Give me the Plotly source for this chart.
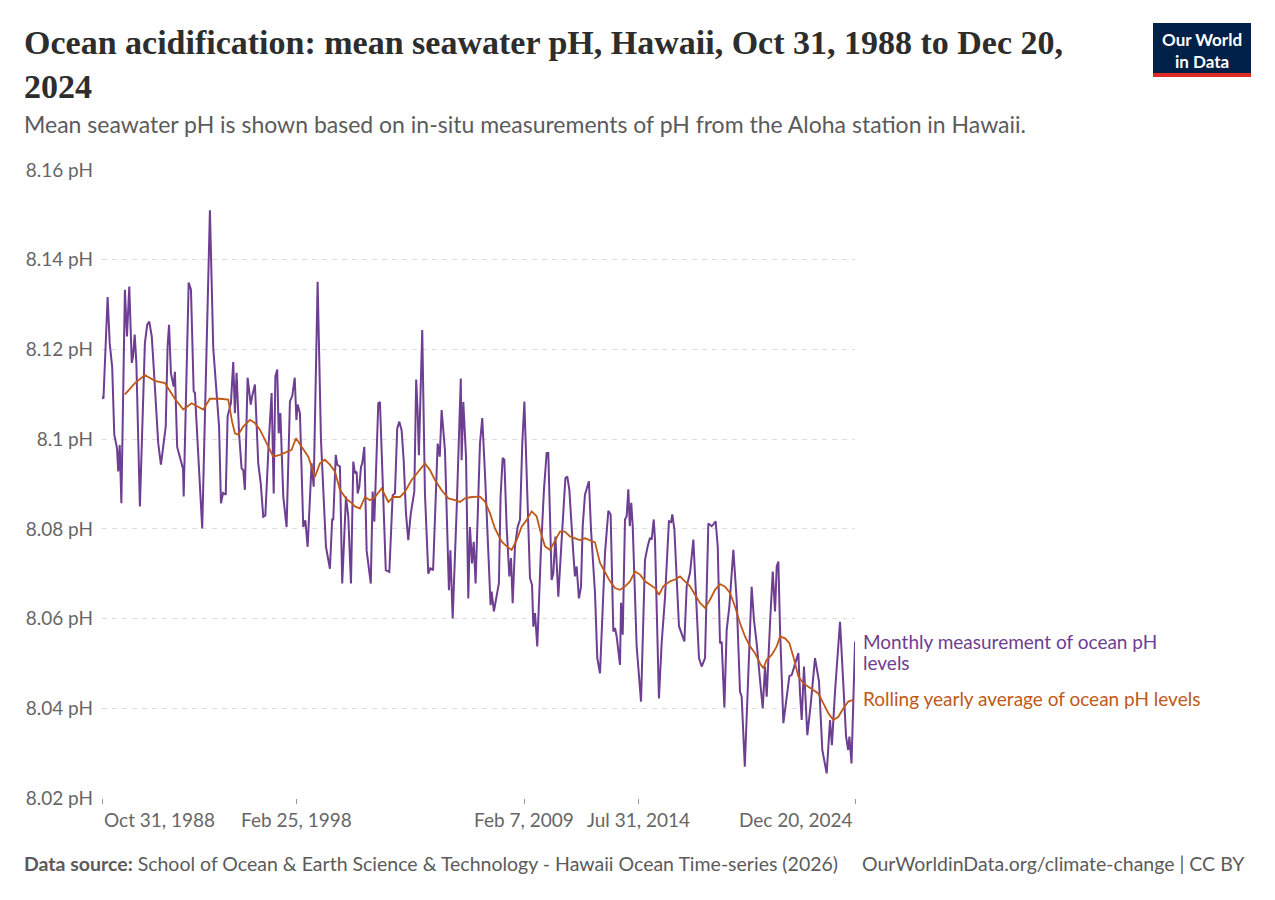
'''
Ocean acidification at the Aloha station (Hawaii): monthly pH readings
and their rolling yearly average, styled after the Our World in Data chart.
'''
import pandas as pd
import plotly.graph_objects as go


WIDTH = 1275
HEIGHT = 900
# plot area in pixels (left, right, top, bottom)
PLOT_L, PLOT_R, PLOT_T, PLOT_B = 102, 855, 170, 798

PURPLE = '#6d3e91'
ORANGE = '#c05917'
GREY = '#666666'

# Monthly measurements, dates as decimal years
monthly_years = [
    1988.83, 1988.90, 1989.10, 1989.20, 1989.32, 1989.42, 1989.55, 1989.61,
    1989.68, 1989.76, 1989.93, 1990.03, 1990.14, 1990.26, 1990.32, 1990.40,
    1990.48, 1990.65, 1990.89, 1991.00, 1991.10, 1991.22, 1991.34, 1991.53,
    1991.66, 1991.89, 1991.98, 1992.05, 1992.14, 1992.27, 1992.33, 1992.44,
    1992.72, 1992.75, 1992.99, 1993.10, 1993.23, 1993.29, 1993.64, 1994.01,
    1994.17, 1994.45, 1994.54, 1994.64, 1994.77, 1994.86, 1995.02, 1995.13,
    1995.21, 1995.29, 1995.41, 1995.53, 1995.61, 1995.69, 1995.82, 1995.97,
    1996.04, 1996.17, 1996.33, 1996.45, 1996.57, 1996.67, 1996.83, 1996.97,
    1997.07, 1997.15, 1997.24, 1997.31, 1997.39, 1997.53, 1997.69, 1997.85,
    1997.96, 1998.08, 1998.16, 1998.22, 1998.33, 1998.49, 1998.59, 1998.70,
    1998.89, 1998.99, 1999.18, 1999.34, 1999.58, 1999.77, 1999.88, 1999.93,
    2000.05, 2000.12, 2000.25, 2000.36, 2000.54, 2000.65, 2000.78, 2000.89,
    2000.97, 2001.05, 2001.10, 2001.18, 2001.26, 2001.32, 2001.42, 2001.53,
    2001.73, 2001.82, 2001.90, 2001.98, 2002.09, 2002.17, 2002.27, 2002.45,
    2002.62, 2002.78, 2002.89, 2003.00, 2003.10, 2003.21, 2003.31, 2003.42,
    2003.53, 2003.65, 2003.82, 2003.91, 2003.98, 2004.04, 2004.20, 2004.33,
    2004.49, 2004.59, 2004.72, 2004.94, 2005.04, 2005.13, 2005.29, 2005.48,
    2005.55, 2005.66, 2005.85, 2006.05, 2006.09, 2006.17, 2006.30, 2006.41,
    2006.49, 2006.59, 2006.67, 2006.76, 2006.97, 2007.08, 2007.21, 2007.40,
    2007.48, 2007.53, 2007.64, 2007.88, 2007.96, 2008.06, 2008.14, 2008.25,
    2008.38, 2008.46, 2008.54, 2008.65, 2008.78, 2008.89, 2009.00, 2009.10,
    2009.21, 2009.37, 2009.47, 2009.53, 2009.61, 2009.72, 2009.89, 2010.04,
    2010.17, 2010.25, 2010.41, 2010.49, 2010.59, 2010.73, 2010.89, 2011.07,
    2011.16, 2011.26, 2011.45, 2011.53, 2011.61, 2011.72, 2011.82, 2011.90,
    2012.01, 2012.20, 2012.30, 2012.49, 2012.60, 2012.73, 2012.97, 2013.13,
    2013.24, 2013.37, 2013.45, 2013.53, 2013.69, 2013.74, 2013.82, 2013.93,
    2014.01, 2014.09, 2014.16, 2014.23, 2014.30, 2014.49, 2014.70, 2014.89,
    2015.02, 2015.13, 2015.21, 2015.31, 2015.37, 2015.56, 2015.69, 2015.85,
    2016.04, 2016.14, 2016.20, 2016.30, 2016.52, 2016.65, 2016.78, 2016.89,
    2017.05, 2017.21, 2017.34, 2017.48, 2017.61, 2017.77, 2017.93, 2018.09,
    2018.17, 2018.28, 2018.38, 2018.49, 2018.57, 2018.70, 2018.81, 2018.94,
    2019.13, 2019.29, 2019.45, 2019.53, 2019.68, 2019.85, 2020.01, 2020.12,
    2020.25, 2020.41, 2020.54, 2020.65, 2020.73, 2020.89, 2021.02, 2021.13,
    2021.21, 2021.29, 2021.37, 2021.53, 2021.69, 2021.82, 2021.93, 2022.09,
    2022.25, 2022.33, 2022.41, 2022.52, 2022.68, 2022.84, 2023.05, 2023.24,
    2023.40, 2023.61, 2023.77, 2023.86, 2024.01, 2024.25, 2024.38, 2024.54,
    2024.64, 2024.70, 2024.80, 2024.97,
]
monthly_ph = [
    8.1095, 8.1090, 8.1317, 8.1214, 8.1160, 8.1010, 8.0980, 8.0928,
    8.0987, 8.0857, 8.1333, 8.1229, 8.1340, 8.1170, 8.1184, 8.1233,
    8.1170, 8.0850, 8.1214, 8.1255, 8.1262, 8.1229, 8.1140, 8.0991,
    8.0943, 8.1028, 8.1207, 8.1255, 8.1147, 8.1117, 8.1150, 8.0982,
    8.0934, 8.0872, 8.1349, 8.1333, 8.1106, 8.1104, 8.0801, 8.1510,
    8.1203, 8.1028, 8.0857, 8.0880, 8.0876, 8.1051, 8.1081, 8.1172,
    8.1058, 8.1148, 8.1013, 8.0935, 8.0931, 8.0887, 8.1137, 8.1077,
    8.1096, 8.1122, 8.0946, 8.0901, 8.0827, 8.0830, 8.0991, 8.1103,
    8.0879, 8.1140, 8.1155, 8.1013, 8.1058, 8.0872, 8.0804, 8.1084,
    8.1096, 8.1137, 8.1043, 8.1077, 8.1058, 8.0804, 8.0819, 8.0760,
    8.0946, 8.0894, 8.1351, 8.0999, 8.0760, 8.0711, 8.0823, 8.0819,
    8.0965, 8.0943, 8.0939, 8.0678, 8.0872, 8.0827, 8.0678, 8.0950,
    8.0924, 8.0927, 8.0879, 8.0894, 8.0938, 8.0946, 8.0983, 8.0752,
    8.0678, 8.0883, 8.0816, 8.0938, 8.1080, 8.1083, 8.0946, 8.0708,
    8.0704, 8.0875, 8.0879, 8.1024, 8.1039, 8.1020, 8.0953, 8.0834,
    8.0775, 8.0834, 8.0883, 8.1133, 8.1061, 8.0964, 8.1243, 8.0879,
    8.0700, 8.0712, 8.0708, 8.0990, 8.0961, 8.1065, 8.0975, 8.0663,
    8.0752, 8.0600, 8.0842, 8.1135, 8.0953, 8.1083, 8.0961, 8.0645,
    8.0804, 8.0723, 8.0771, 8.0678, 8.0990, 8.1047, 8.0924, 8.0701,
    8.0630, 8.0660, 8.0616, 8.0679, 8.0872, 8.0958, 8.0954, 8.0805,
    8.0694, 8.0735, 8.0634, 8.0761, 8.0805, 8.0820, 8.0991, 8.1084,
    8.0917, 8.0690, 8.0675, 8.0582, 8.0612, 8.0538, 8.0746, 8.0887,
    8.0969, 8.0969, 8.0686, 8.0701, 8.0783, 8.0649, 8.0775, 8.0913,
    8.0917, 8.0887, 8.0746, 8.0694, 8.0716, 8.0645, 8.0671, 8.0805,
    8.0876, 8.0906, 8.0798, 8.0657, 8.0512, 8.0478, 8.0746, 8.0840,
    8.0832, 8.0571, 8.0579, 8.0560, 8.0497, 8.0635, 8.0564, 8.0821,
    8.0828, 8.0888, 8.0806, 8.0858, 8.0806, 8.0538, 8.0415, 8.0731,
    8.0761, 8.0780, 8.0776, 8.0821, 8.0776, 8.0422, 8.0545, 8.0646,
    8.0817, 8.0815, 8.0832, 8.0799, 8.0583, 8.0568, 8.0549, 8.0672,
    8.0702, 8.0776, 8.0642, 8.0512, 8.0493, 8.0512, 8.0812, 8.0806,
    8.0810, 8.0817, 8.0761, 8.0545, 8.0548, 8.0402, 8.0575, 8.0627,
    8.0753, 8.0642, 8.0437, 8.0426, 8.0270, 8.0500, 8.0671, 8.0597,
    8.0545, 8.0463, 8.0400, 8.0493, 8.0426, 8.0590, 8.0705, 8.0616,
    8.0716, 8.0727, 8.0575, 8.0367, 8.0419, 8.0472, 8.0474, 8.0500,
    8.0523, 8.0433, 8.0374, 8.0493, 8.0340, 8.0407, 8.0512, 8.0460,
    8.0307, 8.0255, 8.0374, 8.0318, 8.0437, 8.0593, 8.0486, 8.0337,
    8.0307, 8.0337, 8.0277, 8.0549,
]

# Rolling yearly average
rolling_years = [
    1989.93, 1990.41, 1990.89, 1991.37, 1991.85, 1992.33, 1992.73, 1993.13,
    1993.69, 1994.01, 1994.49, 1994.89, 1995.07, 1995.21, 1995.37, 1995.61,
    1995.93, 1996.17, 1996.41, 1996.73, 1997.05, 1997.37, 1997.69, 1997.93,
    1998.14, 1998.41, 1998.73, 1999.05, 1999.29, 1999.53, 1999.77, 2000.01,
    2000.25, 2000.57, 2000.81, 2000.97, 2001.21, 2001.45, 2001.69, 2001.93,
    2002.25, 2002.57, 2002.81, 2003.13, 2003.37, 2003.69, 2004.01, 2004.33,
    2004.57, 2004.81, 2005.13, 2005.45, 2005.77, 2006.01, 2006.25, 2006.57,
    2006.97, 2007.21, 2007.45, 2007.69, 2008.01, 2008.25, 2008.49, 2008.73,
    2008.97, 2009.21, 2009.45, 2009.69, 2009.85, 2010.09, 2010.33, 2010.57,
    2010.81, 2011.05, 2011.29, 2011.53, 2011.77, 2012.01, 2012.25, 2012.49,
    2012.73, 2012.97, 2013.21, 2013.45, 2013.69, 2013.93, 2014.17, 2014.41,
    2014.65, 2014.89, 2015.13, 2015.37, 2015.56, 2015.77, 2016.09, 2016.33,
    2016.57, 2016.81, 2017.05, 2017.29, 2017.53, 2017.77, 2018.01, 2018.25,
    2018.49, 2018.73, 2018.97, 2019.21, 2019.45, 2019.69, 2019.93, 2020.17,
    2020.41, 2020.57, 2020.73, 2020.97, 2021.21, 2021.37, 2021.61, 2021.82,
    2022.01, 2022.25, 2022.49, 2022.73, 2022.97, 2023.21, 2023.45, 2023.69,
    2023.93, 2024.17, 2024.41, 2024.65, 2024.89,
]
rolling_ph = [
    8.1100, 8.1125, 8.1143, 8.1130, 8.1125, 8.1090, 8.1066, 8.1080,
    8.1066, 8.1090, 8.1090, 8.1088, 8.1040, 8.1013, 8.1010, 8.1028,
    8.1043, 8.1036, 8.1021, 8.0991, 8.0961, 8.0965, 8.0972, 8.0976,
    8.1002, 8.0984, 8.0961, 8.0916, 8.0946, 8.0954, 8.0943, 8.0928,
    8.0887, 8.0866, 8.0858, 8.0850, 8.0845, 8.0871, 8.0864, 8.0871,
    8.0890, 8.0860, 8.0871, 8.0871, 8.0883, 8.0909, 8.0927, 8.0946,
    8.0931, 8.0909, 8.0886, 8.0868, 8.0864, 8.0860, 8.0868, 8.0871,
    8.0872, 8.0861, 8.0835, 8.0801, 8.0772, 8.0761, 8.0753, 8.0775,
    8.0805, 8.0820, 8.0839, 8.0828, 8.0798, 8.0761, 8.0753, 8.0775,
    8.0794, 8.0794, 8.0783, 8.0779, 8.0775, 8.0779, 8.0775, 8.0770,
    8.0724, 8.0702, 8.0683, 8.0668, 8.0664, 8.0672, 8.0683, 8.0705,
    8.0698, 8.0683, 8.0676, 8.0668, 8.0653, 8.0672, 8.0683, 8.0687,
    8.0694, 8.0683, 8.0672, 8.0653, 8.0635, 8.0624, 8.0642, 8.0664,
    8.0677, 8.0671, 8.0657, 8.0627, 8.0590, 8.0560, 8.0538, 8.0523,
    8.0500, 8.0489, 8.0508, 8.0519, 8.0538, 8.0560, 8.0556, 8.0545,
    8.0515, 8.0471, 8.0456, 8.0448, 8.0441, 8.0433, 8.0411, 8.0389,
    8.0374, 8.0381, 8.0400, 8.0415, 8.0419,
]

# Axis ticks
y_ticks = [8.02, 8.04, 8.06, 8.08, 8.10, 8.12, 8.14, 8.16]
y_tick_labels = ['8.02 pH', '8.04 pH', '8.06 pH', '8.08 pH',
                 '8.1 pH', '8.12 pH', '8.14 pH', '8.16 pH']
x_ticks = ['1988-10-31', '1998-02-25', '2009-02-07', '2014-07-31',
           '2024-12-20']
x_tick_labels = ['Oct 31, 1988', 'Feb 25, 1998', 'Feb 7, 2009',
                 'Jul 31, 2014', 'Dec 20, 2024']

TITLE = ('Ocean acidification: mean seawater pH, Hawaii, Oct 31, 1988 to '
         'Dec 20,<br>2024')
SUBTITLE = ('Mean seawater pH is shown based on in-situ measurements of pH '
            'from the Aloha station in Hawaii.')
SOURCE = ('<b>Data source:</b> School of Ocean & Earth Science & Technology '
          '- Hawaii Ocean Time-series (2026)')
LICENSE = 'OurWorldinData.org/climate-change | CC BY'


def to_dates(years):
    """Turns decimal years into timestamps."""
    out = []
    for y in years:
        start = pd.Timestamp(year=int(y), month=1, day=1)
        end = pd.Timestamp(year=int(y) + 1, month=1, day=1)
        out.append(start + (end - start) * (y - int(y)))
    return out


def px_x(px):
    # pixel column -> paper x
    return (px - PLOT_L) / (PLOT_R - PLOT_L)


def px_y(px):
    # pixel row -> paper y
    return (PLOT_B - px) / (PLOT_B - PLOT_T)


fig = go.Figure()

fig.add_trace(go.Scatter(
    x=to_dates(monthly_years), y=monthly_ph, mode='lines',
    line=dict(color=PURPLE, width=2), hoverinfo='skip',
    name='Monthly measurement of ocean pH levels'))
fig.add_trace(go.Scatter(
    x=to_dates(rolling_years), y=rolling_ph, mode='lines',
    line=dict(color=ORANGE, width=1.8), hoverinfo='skip',
    name='Rolling yearly average of ocean pH levels'))

fig.update_layout(
    width=WIDTH, height=HEIGHT,
    margin=dict(l=PLOT_L, r=WIDTH - PLOT_R, t=PLOT_T, b=HEIGHT - PLOT_B),
    paper_bgcolor='white', plot_bgcolor='white',
    showlegend=False,
    font=dict(family='Lato', color=GREY),
)

fig.update_xaxes(
    type='date', range=[x_ticks[0], x_ticks[-1]],
    tickvals=x_ticks, showticklabels=False,
    ticks='outside', ticklen=5, tickwidth=1, tickcolor='#999999',
    showgrid=False, zeroline=False, showline=False,
)
fig.update_yaxes(
    range=[8.02, 8.16], tickvals=y_ticks, ticktext=y_tick_labels,
    tickfont=dict(family='Lato', size=19, color=GREY),
    ticks='', ticklabelstandoff=8,
    showgrid=True, gridcolor='#dddddd', gridwidth=1, griddash='5px,5px',
    zeroline=False, showline=False,
)

# x tick labels: first one left aligned, last one right aligned
anchors = ['left', 'center', 'center', 'center', 'right']
for val, text, anchor in zip(x_ticks, x_tick_labels, anchors):
    fig.add_annotation(
        x=val, y=0, xref='x', yref='paper', text=text, showarrow=False,
        xanchor=anchor, yanchor='top', yshift=-8,
        font=dict(family='Lato', size=19, color=GREY))

# line labels on the right (one annotation per line to keep them tight)
label_lines = [
    ('Monthly measurement of ocean pH', 8.0550, PURPLE),
    ('levels', 8.0503, PURPLE),
    ('Rolling yearly average of ocean pH levels', 8.0421, ORANGE),
]
for text, yval, color in label_lines:
    fig.add_annotation(
        x=1, y=yval, xref='paper', yref='y', xshift=6,
        text=text, showarrow=False, xanchor='left', yanchor='middle',
        align='left', font=dict(family='Lato', size=19, color=color))

# title, subtitle, footer
fig.add_annotation(
    x=px_x(22), y=px_y(22), xref='paper', yref='paper',
    text='<b>' + TITLE + '</b>',
    showarrow=False, xanchor='left', yanchor='top', align='left',
    font=dict(family='Liberation Serif', size=34, color='#2d2d2d'))
fig.add_annotation(
    x=px_x(22), y=px_y(124), xref='paper', yref='paper', text=SUBTITLE,
    showarrow=False, xanchor='left', yanchor='middle', align='left',
    font=dict(family='Lato', size=23, color='#5b5b5b'))
fig.add_annotation(
    x=px_x(22), y=px_y(863), xref='paper', yref='paper', text=SOURCE,
    showarrow=False, xanchor='left', yanchor='middle', align='left',
    font=dict(family='Lato', size=19.5, color='#5b5b5b'))
fig.add_annotation(
    x=px_x(1247), y=px_y(863), xref='paper', yref='paper', text=LICENSE,
    showarrow=False, xanchor='right', yanchor='middle', align='right',
    font=dict(family='Lato', size=19.5, color='#5b5b5b'))

# Our World in Data logo
fig.add_shape(type='rect', xref='paper', yref='paper',
              x0=px_x(1153), x1=px_x(1251), y0=px_y(77), y1=px_y(23),
              fillcolor='#002147', line=dict(width=0), layer='above')
fig.add_shape(type='rect', xref='paper', yref='paper',
              x0=px_x(1153), x1=px_x(1251), y0=px_y(77), y1=px_y(73),
              fillcolor='#dc2a24', line=dict(width=0), layer='above')
fig.add_annotation(
    x=px_x(1202), y=px_y(50), xref='paper', yref='paper',
    text='<b>Our World<br>in Data</b>', showarrow=False,
    xanchor='center', yanchor='middle', align='center',
    font=dict(family='Lato', size=17, color='white'))

# drop the default page margin so the figure sits at the window's corner
fig.write_html('out.html', config={'displayModeBar': False},
               post_script="document.body.style.margin='0';")
